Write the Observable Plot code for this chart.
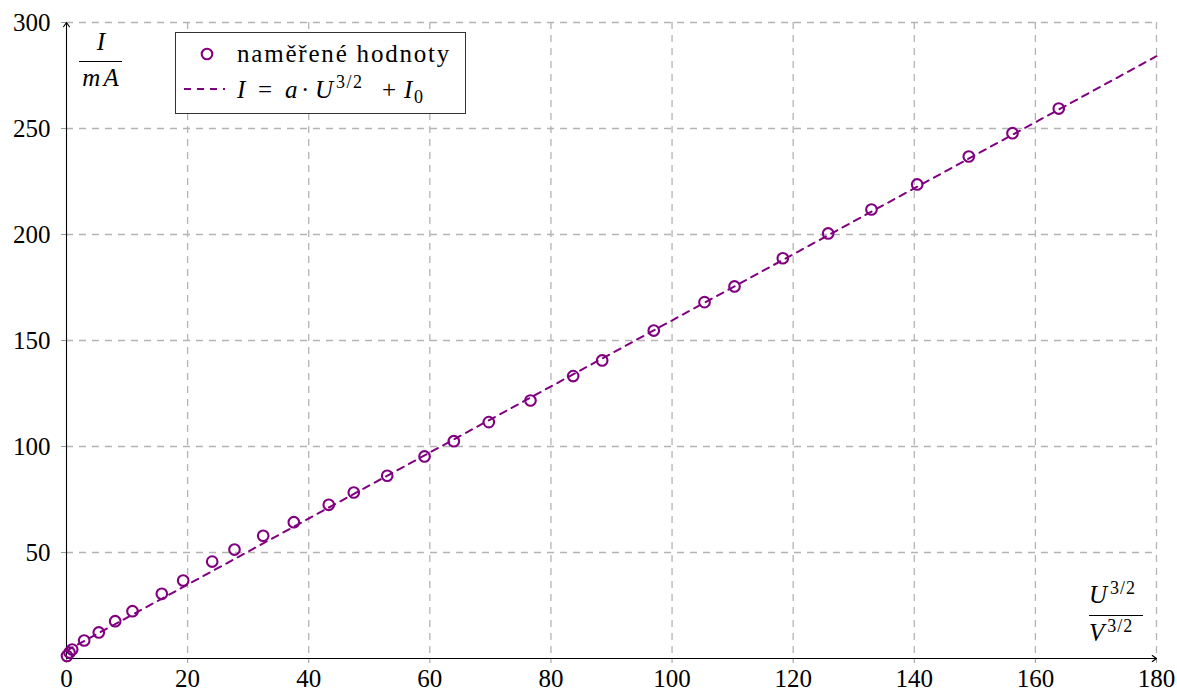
<!DOCTYPE html>
<html><head><meta charset="utf-8">
<script src="https://cdn.jsdelivr.net/npm/d3@7"></script>
<script src="https://cdn.jsdelivr.net/npm/@observablehq/plot@0.6"></script>
<style>html,body{margin:0;padding:0;background:#fff;}</style>
</head><body><div id="chart"></div>
<script>
// measured values: x = U^{3/2} [V^{3/2}], y = I [mA]
const U32 = [0.08, 0.50, 0.94, 2.92, 5.33, 8.04, 10.90, 15.74, 19.27, 24.06, 27.74, 32.48, 37.54, 43.31, 47.44, 52.96, 59.12, 63.96, 69.74, 76.62, 83.67, 88.46, 96.98, 105.36, 110.31, 118.29, 125.78, 132.93, 140.48, 149.0, 156.22, 163.86];
const I_mA = [1.2, 2.8, 4.2, 8.5, 12.3, 17.6, 22.3, 30.5, 36.8, 45.7, 51.4, 57.9, 64.3, 72.5, 78.3, 86.2, 95.3, 102.5, 111.5, 121.7, 133.2, 140.6, 154.7, 168.1, 175.5, 188.8, 200.5, 211.8, 223.6, 236.8, 247.8, 259.4];
// fitted line endpoints
const fitX = [0, 180];
const fitI = [3.7, 284.1];
const xTicks = [0, 20, 40, 60, 80, 100, 120, 140, 160, 180];
const yTicks = [50, 100, 150, 200, 250, 300];
const legendLabels = ["naměřené hodnoty", "I = a · U^{3/2} + I_0"];

const purple = "#800080";
const font = "'Liberation Serif','DejaVu Serif','Noto Serif',serif";

const points = U32.map((x, i) => ({x, y: I_mA[i]}));
const fit = fitX.map((x, i) => ({x, y: fitI[i]}));
const axesArrows = [
  {x1: xTicks[0], y1: 0, x2: xTicks[xTicks.length - 1], y2: 0},
  {x1: xTicks[0], y1: 0, x2: xTicks[0], y2: yTicks[yTicks.length - 1]}
];

const plot = Plot.plot({
  width: 1177, height: 692,
  marginLeft: 66, marginRight: 21, marginTop: 22, marginBottom: 34,
  style: {fontFamily: font, fontSize: "25px", color: "black", background: "white"},
  x: {domain: [0, 180]},
  y: {domain: [0, 300]},
  marks: [
    Plot.gridX(xTicks.filter(d => d > 0), {stroke: "#b4b4b4", strokeOpacity: 1, strokeWidth: 1.3, strokeDasharray: "7,6"}),
    Plot.gridY(yTicks, {stroke: "#b4b4b4", strokeOpacity: 1, strokeWidth: 1.3, strokeDasharray: "7,6"}),
    Plot.axisX(xTicks, {tickSize: 5, tickPadding: 6, stroke: "#999", fill: "black", label: null, fontFamily: font}),
    Plot.axisY(yTicks, {tickSize: 5, tickPadding: 11, stroke: "#999", fill: "black", label: null, fontFamily: font}),
    Plot.arrow(axesArrows, {x1: "x1", y1: "y1", x2: "x2", y2: "y2", stroke: "black", strokeWidth: 1.1, headLength: 7, headAngle: 70}),
    Plot.line(fit, {x: "x", y: "y", stroke: purple, strokeWidth: 2, strokeDasharray: "7,6"}),
    Plot.dot(points, {x: "x", y: "y", r: 5.3, stroke: purple, strokeWidth: 2.1, fill: "none"})
  ]
});

const svg = d3.select(plot);
const sx = plot.scale("x"), sy = plot.scale("y");
const X0 = sx.apply(0), X1 = sx.apply(180), Y0 = sy.apply(0), Y1 = sy.apply(300);

// y-axis label: I / mA
const yl = svg.append("g").attr("font-family", font).attr("font-size", 25).attr("fill", "black").attr("text-anchor", "middle");
yl.append("text").attr("x", X0 + 35).attr("y", Y1 + 28).attr("font-style", "italic").text("I");
yl.append("line").attr("x1", X0 + 13).attr("x2", X0 + 56).attr("y1", Y1 + 39.5).attr("y2", Y1 + 39.5).attr("stroke", "black").attr("stroke-width", 1);
yl.append("text").attr("x", X0 + 36).attr("y", Y1 + 64).attr("font-style", "italic").attr("letter-spacing", 3).text("mA");

// x-axis label: U^{3/2} / V^{3/2}
const xl = svg.append("g").attr("font-family", font).attr("font-size", 25).attr("fill", "black").attr("text-anchor", "start");
function supText(g, letter, x, y) {
  const t = g.append("text").attr("x", x).attr("y", y);
  t.append("tspan").attr("font-style", "italic").text(letter);
  t.append("tspan").attr("font-size", 18).attr("dy", -9).attr("dx", 3).attr("letter-spacing", 1).text("3/2");
}
supText(xl, "U", X1 - 67, Y0 - 55);
xl.append("line").attr("x1", X1 - 67).attr("x2", X1 - 13).attr("y1", Y0 - 42.5).attr("y2", Y0 - 42.5).attr("stroke", "black").attr("stroke-width", 1);
supText(xl, "V", X1 - 67, Y0 - 17);

// legend
const lg = svg.append("g").attr("font-family", font).attr("font-size", 25).attr("fill", "black").attr("text-anchor", "start");
const lx = X0 + 109, ly = Y1 + 10;
lg.append("rect").attr("x", lx + 0.5).attr("y", ly + 0.5).attr("width", 290).attr("height", 81)
  .attr("fill", "white").attr("stroke", "#333").attr("stroke-width", 1);
lg.append("circle").attr("cx", lx + 32).attr("cy", ly + 22).attr("r", 5.3)
  .attr("fill", "none").attr("stroke", purple).attr("stroke-width", 2.1);
lg.append("text").attr("x", lx + 62).attr("y", ly + 30).attr("letter-spacing", 1.8).text(legendLabels[0]);
lg.append("line").attr("x1", lx + 9).attr("x2", lx + 50).attr("y1", ly + 57).attr("y2", ly + 57)
  .attr("stroke", purple).attr("stroke-width", 2).attr("stroke-dasharray", "7,6");
const mb = ly + 66;
const mt = lg.append("text").attr("y", mb);
mt.append("tspan").attr("x", lx + 62).attr("font-style", "italic").text("I");
mt.append("tspan").attr("x", lx + 83).text("=");
mt.append("tspan").attr("x", lx + 110).attr("font-style", "italic").text("a");
mt.append("tspan").attr("x", lx + 126).text("·");
mt.append("tspan").attr("x", lx + 140).attr("font-style", "italic").text("U");
mt.append("tspan").attr("x", lx + 161).attr("y", mb - 10).attr("font-size", 18).attr("letter-spacing", 1.5).text("3/2");
mt.append("tspan").attr("x", lx + 207).attr("y", mb).text("+");
mt.append("tspan").attr("x", lx + 229).attr("font-style", "italic").text("I");
mt.append("tspan").attr("x", lx + 239).attr("y", mb + 5).attr("font-size", 18).text("0");

document.getElementById("chart").appendChild(plot);
</script>
</body></html>
